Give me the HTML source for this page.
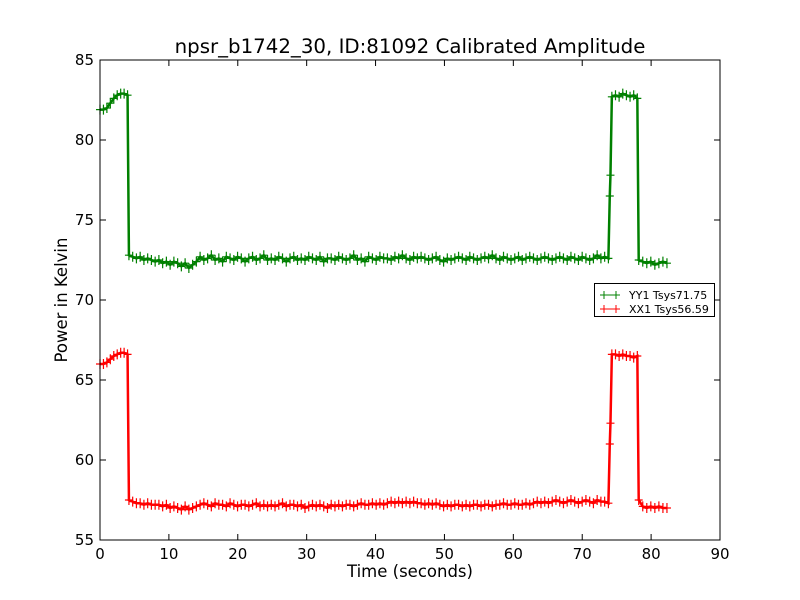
<!DOCTYPE html>
<html><head><meta charset="utf-8"><style>
body{margin:0;background:#fff}
svg{display:block;font-family:"DejaVu Sans","Liberation Sans",sans-serif}
</style></head><body>
<svg id="chart" width="800" height="600"></svg>
<script>
const yyTimes=[0,0.5,1,1.5,2,2.5,3,3.5,4];
const yyStart=[81.9,81.9,82.0,82.3,82.6,82.8,82.9,82.9,82.8];
const yyMid=[72.8,72.7,72.6,72.7,72.5,72.6,72.5,72.4,
72.5,72.3,72.4,72.2,72.4,72.3,72.1,72.3,72.0,72.2,72.4,
72.7,72.5,72.6,72.8,72.5,72.6,72.4,72.7,72.6,72.5,72.7,72.6,72.4,72.6,72.7,72.5,72.6,72.8,72.5,72.6,
72.5,72.7,72.6,72.4,72.6,72.7,72.5,72.6,72.5,72.7,72.6,72.5,72.7,72.4,72.6,72.6,72.5,72.7,72.6,72.5,
72.6,72.8,72.5,72.6,72.4,72.7,72.6,72.5,72.7,72.6,72.6,72.5,72.7,72.6,72.8,72.6,72.5,72.7,72.6,72.7,
72.6,72.5,72.6,72.7,72.5,72.4,72.6,72.5,72.6,72.7,72.6,72.5,72.7,72.6,72.5,72.6,72.7,72.6,72.8,72.6,
72.5,72.7,72.6,72.5,72.6,72.7,72.5,72.6,72.7,72.6,72.5,72.6,72.7,72.6,72.5,72.6,72.7,72.6,72.5,72.7,
72.6,72.5,72.7,72.6,72.5,72.6,72.8,72.6,72.7,72.6];
const yyJump=[76.5,77.8];
const yyHigh=[82.7,82.8,82.7,82.9,82.8,82.7,82.8,82.6];
const yyEnd=[72.5,72.4,72.3,72.4,72.2,72.3,72.4,72.3];
const xxStart=[66.0,66.0,66.1,66.3,66.5,66.6,66.7,66.7,66.6];
const xxMid=[57.5,57.4,57.3,57.3,57.2,57.3,57.2,57.2,
57.2,57.1,57.2,57.0,57.1,57.0,56.9,57.1,56.9,57.0,57.1,
57.2,57.3,57.2,57.1,57.3,57.2,57.2,57.1,57.3,57.2,57.1,57.2,57.2,57.1,57.2,57.3,57.1,57.2,57.1,57.2,
57.1,57.2,57.3,57.1,57.2,57.2,57.1,57.2,57.0,57.1,57.2,57.1,57.2,57.1,57.0,57.2,57.1,57.2,57.1,57.2,
57.2,57.1,57.2,57.3,57.2,57.2,57.3,57.2,57.3,57.2,57.3,57.4,57.3,57.4,57.3,57.4,57.3,57.4,57.3,57.3,
57.2,57.3,57.2,57.3,57.2,57.1,57.2,57.1,57.2,57.2,57.1,57.2,57.1,57.2,57.2,57.1,57.2,57.2,57.1,57.2,
57.2,57.3,57.2,57.2,57.3,57.2,57.2,57.3,57.2,57.3,57.4,57.3,57.4,57.3,57.4,57.5,57.4,57.3,57.4,57.5,
57.4,57.3,57.4,57.5,57.4,57.3,57.5,57.4,57.4,57.3];
const xxJump=[61.0,62.3];
const xxHigh=[66.6,66.6,66.5,66.6,66.5,66.5,66.4,66.5];
const xxEnd=[57.5,57.1,57.0,57.1,57.0,57.1,57.0,57.0];
const xTicks=[0,10,20,30,40,50,60,70,80,90];
const yTicks=[55,60,65,70,75,80,85];

const NS="http://www.w3.org/2000/svg";
const svg=document.getElementById('chart');
const L=100,R=720,T=60,B=540;
const xs=v=>L+(v-0)/90*(R-L);
const ys=v=>B-(v-55)/30*(B-T);
function mk(tag,attrs,parent){const e=document.createElementNS(NS,tag);for(const k in attrs)e.setAttribute(k,attrs[k]);(parent||svg).appendChild(e);return e;}

function build(start,mid,jump,high,end){
  const pts=[];
  yyTimes.forEach((t,i)=>pts.push([t,start[i]]));
  const step=(73.8-4.2)/(mid.length-1);
  mid.forEach((v,i)=>pts.push([4.2+i*step,v]));
  pts.push([74.0,jump[0]]);pts.push([74.1,jump[1]]);
  const hs=(78.0-74.3)/(high.length-1);
  high.forEach((v,i)=>pts.push([74.3+i*hs,v]));
  const es=(82.3-78.2)/(end.length-1);
  end.forEach((v,i)=>pts.push([78.2+i*es,v]));
  return pts;
}
function series(pts,color,name){
  const g=mk('g',{});
  
  
  const p=mk('polyline',{points:pts.map(p=>xs(p[0])+','+ys(p[1])).join(' '),fill:'none',stroke:color,'stroke-width':2.5},g);
  
  
  pts.forEach(q=>{
    const x=xs(q[0]),y=ys(q[1]);
    const m=mk('path',{d:`M${x-4},${y}H${x+4}M${x},${y-5}V${y+5}`,stroke:color,'stroke-width':1.2},g);
    
    
  });
}
series(build(yyStart,yyMid,yyJump,yyHigh,yyEnd),'#008000','yy1-series');
series(build(xxStart,xxMid,xxJump,xxHigh,xxEnd),'#ff0000','xx1-series');

const frame=mk('rect',{x:L,y:T,width:R-L,height:B-T,fill:'none',stroke:'#000','stroke-width':1});


xTicks.forEach(v=>{
  const x=xs(v);
  const t=mk('path',{d:`M${x},${B}V${B-6}M${x},${T}V${T+6}`,stroke:'#000'});
  
  
  const l=mk('text',{x:x,y:B+19,'text-anchor':'middle','font-size':15});
  l.textContent=v;
  
  
});
yTicks.forEach(v=>{
  const y=ys(v);
  const t=mk('path',{d:`M${L},${y}H${L+6}M${R},${y}H${R-6}`,stroke:'#000'});
  
  
  const l=mk('text',{x:L-6,y:y+5,'text-anchor':'end','font-size':15});
  l.textContent=v;
  
  
});
const title=mk('text',{x:410,y:53,'text-anchor':'middle','font-size':19.8});
title.textContent='npsr_b1742_30, ID:81092 Calibrated Amplitude';


const xl=mk('text',{x:410,y:577,'text-anchor':'middle','font-size':16.5});
xl.textContent='Time (seconds)';


const yl=mk('text',{x:67,y:300,'text-anchor':'middle','font-size':16.5,transform:'rotate(-90 67 300)'});
yl.textContent='Power in Kelvin';



const lg=mk('g',{});


mk('rect',{x:594.5,y:283.5,width:120,height:33,fill:'#fff',stroke:'#000'},lg);
[['YY1 Tsys71.75','#008000',295],['XX1 Tsys56.59','#ff0000',309]].forEach(e=>{
  const g=mk('g',{},lg);
  
  
  mk('path',{d:`M600,${e[2]}H620M604,${e[2]-4}V${e[2]+4}M616,${e[2]-4}V${e[2]+4}`,stroke:e[1]},g);
  const t=mk('text',{x:629,y:e[2]+4,'font-size':11},g);
  t.textContent=e[0];
});
</script>
</body></html>
